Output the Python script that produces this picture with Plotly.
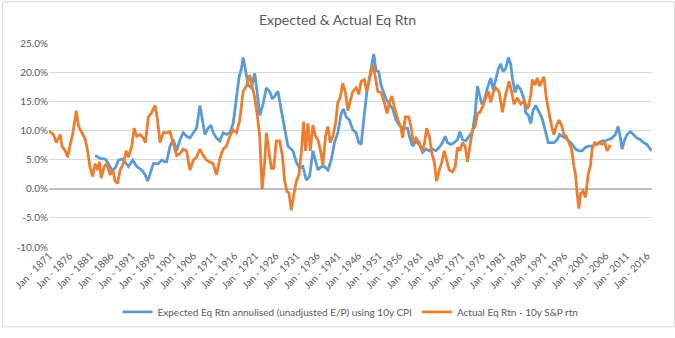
import plotly.graph_objects as go

# Expected Eq Rtn (blue) - decimal year, percent
exp_years = [1882.2, 1883.41, 1884.62, 1885.43, 1886.23, 1887.04, 1887.85, 1888.65, 1889.46, 1890.26,
             1891.31, 1892.28, 1893.49, 1894.29, 1894.94, 1895.66, 1896.31, 1897.51, 1898.32, 1899.13,
             1899.53, 1900.34, 1901.14, 1901.95, 1902.75, 1903.56, 1904.36, 1905.17, 1905.98, 1906.78,
             1907.59, 1908.23, 1908.8, 1909.6, 1910.25, 1910.81, 1911.62, 1912.42, 1913.23, 1914.03,
             1914.84, 1915.65, 1916.45, 1917.1, 1917.66, 1918.06, 1918.71, 1919.27, 1920.08, 1920.88,
             1921.45, 1922.09, 1922.9, 1923.7, 1924.51, 1925.15, 1925.72, 1926.52, 1927.33, 1928.14,
             1928.94, 1930.15, 1930.96, 1931.76, 1932.57, 1933.37, 1934.18, 1934.99, 1935.63, 1936.2,
             1937.0, 1937.81, 1938.61, 1939.42, 1940.22, 1941.03, 1941.84, 1942.4, 1943.04, 1943.85,
             1944.66, 1945.46, 1946.11, 1946.67, 1947.32, 1948.04, 1948.69, 1949.33, 1949.73, 1950.3,
             1950.94, 1951.5, 1952.07, 1952.71, 1953.52, 1954.33, 1955.13, 1955.94, 1956.74, 1957.95,
             1958.37, 1959.17, 1959.98, 1960.78, 1961.59, 1962.39, 1963.2, 1964.0, 1964.81, 1965.62,
             1966.42, 1967.07, 1967.63, 1968.44, 1969.24, 1970.05, 1970.61, 1971.26, 1972.06, 1972.87,
             1973.68, 1974.32, 1974.88, 1975.45, 1975.93, 1976.5, 1977.3, 1978.11, 1978.67, 1979.32,
             1979.96, 1980.53, 1981.09, 1981.73, 1982.38, 1982.94, 1983.35, 1983.99, 1984.55, 1985.36,
             1986.17, 1986.57, 1987.21, 1987.78, 1988.34, 1988.99, 1989.79, 1990.44, 1991.0, 1991.57,
             1992.05, 1992.61, 1993.42, 1994.22, 1994.79, 1995.43, 1996.24, 1997.05, 1997.85, 1998.66,
             1999.46, 2000.27, 2001.07, 2001.88, 2002.69, 2003.49, 2004.3, 2005.1, 2005.91, 2006.72,
             2007.52, 2008.33, 2008.97, 2009.54, 2009.94, 2010.58, 2011.15, 2011.95, 2012.76, 2013.56,
             2014.37, 2015.18, 2015.98, 2016.79, 2017.1]
exp_vals = [5.7, 5.2, 5.1, 4.3, 3.2, 3.5, 4.9, 5.1, 4.6, 3.8,
            4.9, 3.8, 3.2, 2.4, 1.3, 2.9, 4.3, 4.3, 4.9, 4.6,
            4.6, 7.3, 8.4, 6.5, 8.4, 9.6, 9.0, 8.7, 9.6, 10.4,
            14.3, 12.0, 9.3, 10.4, 10.9, 9.6, 8.7, 8.2, 9.6, 9.3,
            9.6, 11.2, 15.6, 19.2, 20.6, 22.5, 20.1, 17.8, 17.3, 19.8,
            16.7, 12.6, 14.5, 17.3, 16.7, 15.4, 15.9, 16.7, 13.4, 10.1,
            7.3, 6.5, 4.6, 3.5, 3.8, 1.5, 2.1, 6.5, 4.6, 3.2,
            3.8, 3.8, 3.2, 4.9, 7.9, 9.6, 12.9, 13.7, 12.3, 11.8,
            10.1, 9.6, 7.9, 7.6, 11.8, 16.5, 19.0, 21.2, 23.1, 20.3,
            20.1, 17.8, 16.5, 15.4, 14.5, 13.7, 11.8, 10.9, 10.4, 10.4,
            9.0, 7.3, 8.2, 7.6, 6.2, 6.8, 6.5, 6.8, 6.5, 7.1,
            7.9, 9.0, 7.9, 7.6, 7.9, 8.4, 9.8, 8.4, 8.2, 9.0,
            9.8, 12.9, 17.6, 15.9, 14.5, 15.1, 17.3, 19.0, 17.0, 18.7,
            20.6, 21.4, 20.1, 20.6, 22.5, 21.4, 19.0, 16.5, 17.8, 17.0,
            15.4, 13.1, 12.6, 11.2, 13.4, 14.3, 13.1, 12.3, 10.9, 9.3,
            7.9, 7.9, 7.9, 8.4, 9.3, 9.0, 8.7, 8.2, 7.6, 6.8,
            6.5, 6.5, 7.1, 7.3, 7.3, 7.6, 7.9, 8.2, 8.2, 8.4,
            8.7, 9.3, 10.7, 8.7, 6.8, 8.4, 9.3, 9.8, 9.3, 8.7,
            8.4, 7.9, 7.6, 6.8, 6.5]

# Actual Eq Rtn (orange) - decimal year, percent
act_years = [1871.0, 1871.16, 1872.13, 1872.78, 1873.74, 1874.15, 1874.95, 1875.52, 1876.16, 1876.81,
             1877.61, 1878.17, 1878.98, 1879.79, 1880.35, 1881.0, 1881.56, 1882.2, 1882.77, 1883.25,
             1883.65, 1884.38, 1885.02, 1885.83, 1886.47, 1887.04, 1887.6, 1888.25, 1889.05, 1889.7,
             1890.26, 1891.07, 1891.63, 1892.28, 1893.08, 1893.89, 1894.37, 1895.1, 1895.9, 1896.71,
             1897.27, 1897.92, 1898.72, 1899.53, 1900.34, 1901.14, 1901.95, 1902.75, 1903.56, 1904.36,
             1905.17, 1905.98, 1906.78, 1907.59, 1908.39, 1909.2, 1910.0, 1910.81, 1911.62, 1912.42,
             1913.23, 1914.03, 1914.84, 1915.65, 1916.45, 1917.26, 1918.06, 1918.87, 1919.68, 1920.32,
             1920.88, 1921.45, 1922.09, 1922.66, 1923.3, 1923.7, 1924.35, 1924.91, 1925.48, 1926.12,
             1926.93, 1927.57, 1928.14, 1928.7, 1929.18, 1929.75, 1930.31, 1930.96, 1931.6, 1932.17,
             1932.73, 1933.21, 1933.78, 1934.34, 1934.99, 1935.63, 1936.2, 1936.84, 1937.4, 1938.05,
             1938.61, 1939.18, 1939.82, 1940.47, 1941.03, 1941.59, 1942.24, 1942.88, 1943.45, 1944.01,
             1944.66, 1945.46, 1946.11, 1946.67, 1947.48, 1948.04, 1948.69, 1949.49, 1950.14, 1950.7,
             1951.5, 1952.31, 1952.96, 1953.52, 1954.16, 1954.73, 1955.53, 1956.34, 1956.74, 1957.39,
             1958.2, 1958.77, 1959.33, 1959.98, 1960.78, 1961.43, 1961.99, 1962.56, 1963.2, 1963.85,
             1964.41, 1964.97, 1965.62, 1966.26, 1966.83, 1967.39, 1968.04, 1968.84, 1969.49, 1970.05,
             1970.61, 1971.26, 1971.9, 1972.47, 1973.03, 1973.68, 1974.32, 1974.88, 1975.45, 1976.09,
             1976.9, 1977.54, 1978.11, 1978.67, 1979.32, 1980.12, 1980.93, 1981.73, 1982.54, 1983.18,
             1983.75, 1984.55, 1985.36, 1986.17, 1986.97, 1987.21, 1987.78, 1988.18, 1988.83, 1989.39,
             1989.95, 1990.6, 1991.0, 1991.57, 1992.21, 1992.86, 1993.42, 1993.98, 1994.63, 1995.27,
             1995.84, 1996.4, 1997.05, 1997.69, 1998.25, 1998.66, 1999.06, 1999.46, 1999.87, 2000.43,
             2001.07, 2001.72, 2002.28, 2002.69, 2003.33, 2003.9, 2004.46, 2005.1, 2005.75, 2006.31,
             2006.88, 2007.36]
act_vals = [10.0, 9.8, 9.3, 7.9, 9.3, 7.3, 6.5, 5.4, 7.6, 9.6,
            13.4, 10.7, 9.6, 8.5, 6.5, 3.5, 2.1, 4.3, 3.2, 4.6,
            1.8, 3.8, 4.3, 2.4, 3.2, 1.3, 0.9, 3.2, 4.3, 6.5,
            5.4, 7.3, 10.4, 9.0, 9.3, 8.7, 7.9, 12.3, 13.1, 14.3,
            12.0, 7.9, 9.6, 9.6, 9.8, 7.9, 5.7, 6.0, 6.8, 6.5,
            3.2, 4.9, 5.4, 6.8, 5.7, 4.9, 4.6, 4.3, 2.4, 5.1,
            6.8, 7.3, 9.0, 10.1, 9.6, 11.8, 16.7, 17.6, 19.5, 17.3,
            15.6, 12.9, 9.0, -0.1, 4.6, 9.6, 6.5, 3.5, 3.5, 8.2,
            8.2, 5.7, 1.3, -0.5, -0.7, -3.7, -1.2, 1.3, 2.4, 6.2,
            11.5, 6.5, 11.2, 6.5, 10.9, 9.0, 8.4, 6.5, 4.0, 9.0,
            10.7, 7.9, 9.0, 11.2, 14.8, 15.6, 18.1, 16.5, 13.4, 15.1,
            16.7, 17.3, 16.2, 18.4, 18.7, 16.7, 19.0, 21.2, 19.2, 16.7,
            16.5, 14.8, 12.9, 14.8, 15.9, 14.0, 12.0, 10.4, 8.7, 12.3,
            12.3, 10.7, 7.9, 8.7, 7.9, 6.5, 7.6, 10.4, 9.0, 6.0,
            4.6, 1.3, 3.2, 4.6, 6.5, 4.9, 3.2, 2.9, 3.8, 7.1,
            6.5, 7.9, 7.3, 4.6, 7.6, 10.1, 10.7, 12.9, 13.1, 14.0,
            15.6, 16.7, 14.8, 16.5, 17.3, 16.7, 13.1, 16.2, 18.4, 16.7,
            14.5, 15.6, 14.5, 15.1, 13.7, 14.0, 15.9, 18.7, 17.8, 19.0,
            17.6, 18.7, 19.2, 15.6, 13.1, 10.7, 9.3, 10.7, 11.8, 10.9,
            9.3, 9.0, 7.9, 6.8, 4.0, 2.4, -0.9, -3.4, -0.9, -0.4,
            -1.5, 2.4, 4.0, 6.8, 7.9, 7.6, 7.9, 7.6, 7.9, 6.5,
            7.3, 7.3]

tick_years = list(range(1871, 2017, 5))
tick_labels = ["Jan - %d" % y for y in tick_years]
y_ticks = [-10, -5, 0, 5, 10, 15, 20, 25]

FONT = "Lato, Open Sans, sans-serif"
GRAY = "#595959"

fig = go.Figure()
fig.add_trace(go.Scatter(x=exp_years, y=exp_vals, mode="lines",
                         name="Expected Eq Rtn annulised (unadjusted E/P) using 10y CPI",
                         line=dict(color="#5B9BD5", width=2.8)))
fig.add_trace(go.Scatter(x=act_years, y=act_vals, mode="lines",
                         name="Actual Eq Rtn - 10y S&P rtn",
                         line=dict(color="#ED7D31", width=2.8)))

L, R, T, B = 47, 23, 43.3, 83.3
pw = 675 - L - R
ph = 338 - T - B

fig.update_layout(
    width=675, height=338,
    margin=dict(l=L, r=R, t=T, b=B),
    paper_bgcolor="white", plot_bgcolor="white",
    font=dict(family=FONT, color=GRAY, size=10),
    title=dict(text="Expected & Actual Eq Rtn", x=0.5, xanchor="center",
               y=1 - 20 / 338, yanchor="middle",
               font=dict(family=FONT, size=14, color=GRAY)),
    showlegend=True,
    legend=dict(orientation="h", x=0.5, xanchor="center",
                y=-(322 - (T + ph)) / ph, yanchor="middle",
                font=dict(family=FONT, size=10, color=GRAY),
                bgcolor="rgba(0,0,0,0)", itemwidth=30, tracegroupgap=0),
    xaxis=dict(range=[1871.0, 2017.2], tickmode="array", tickvals=tick_years,
               ticktext=tick_labels, tickangle=-45, showgrid=False, zeroline=False,
               showline=False, ticks="", tickfont=dict(family=FONT, size=10, color=GRAY)),
    yaxis=dict(range=[-10, 25], tickmode="array", tickvals=y_ticks,
               ticktext=["%.1f%%" % v for v in y_ticks],
               showgrid=True, gridcolor="#d9d9d9", gridwidth=1,
               zeroline=True, zerolinecolor="#bfbfbf", zerolinewidth=1.5,
               showline=False, ticks="", tickfont=dict(family=FONT, size=10, color=GRAY)),
    shapes=[dict(type="rect", xref="paper", yref="paper",
                 x0=(0.5 - L) / pw, x1=(674.5 - L) / pw,
                 y0=-(B - 0.5) / ph, y1=(ph + T - 0.5) / ph,
                 line=dict(color="#d9d9d9", width=1), fillcolor="rgba(0,0,0,0)",
                 layer="below")],
)

fig.write_html("out.html")
